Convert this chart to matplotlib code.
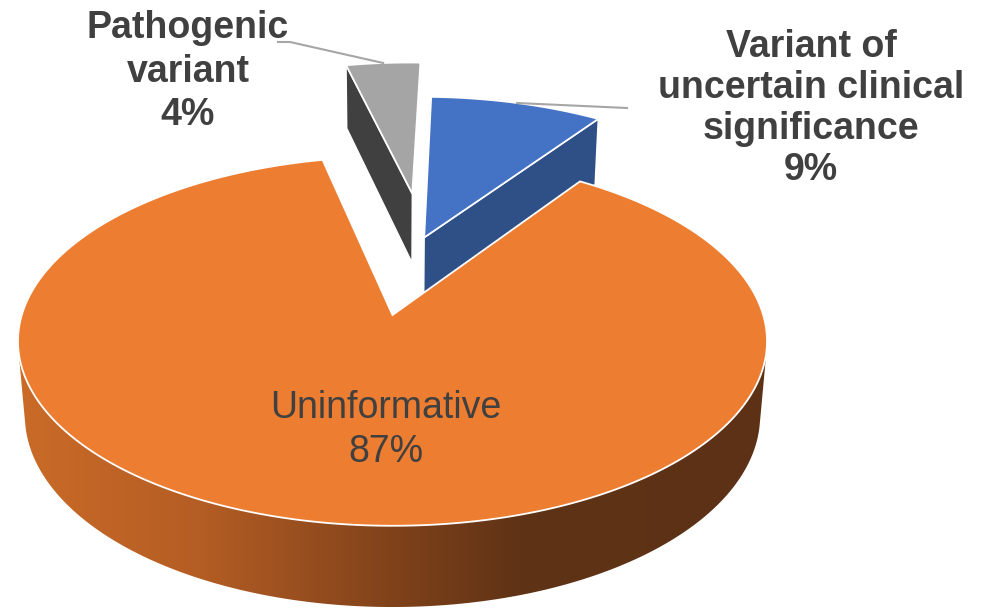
import numpy as np
import matplotlib
matplotlib.use("Agg")
import matplotlib.pyplot as plt
from matplotlib.patches import Polygon

# data, clockwise from 12 o'clock
categories = ["Variant of\nuncertain clinical\nsignificance", "Uninformative", "Pathogenic\nvariant"]
shares = [9, 87, 4]

top_colors = ["#4472C4", "#ED7D31", "#A5A5A5"]
side_colors = ["#2F4F87", None, "#404040"]   # None -> shaded wall
# how far each slice is pulled out (table plane, x right / y away, in radii)
offsets = [(0.091, 0.456), (0.0, 0.0), (0.059, 0.741)]

# label layout: centre x, first baseline, line step, bold
label_layout = [(811, 57, 41, True), (386, 418, 44, False), (188, 38, 43.5, True)]
leader_ends = [[(627, 108)], None, [(290, 42), (278, 42)]]

# camera for the fake 3d look
ALPHA = np.radians(29.2)
DIST = 6.15
FOCAL = 2280
CX, CY = 392.5, 315
THICK = 0.232
START = 2.0
ca, sa = np.cos(ALPHA), np.sin(ALPHA)


def proj(x, y, z=0.0):
    d = DIST + y * ca - z * sa
    return CX + FOCAL * x / d, CY - FOCAL * (y * sa + z * ca) / d


def rim(ox, oy, t, z=0.0):
    t = np.radians(t)
    return proj(ox + np.sin(t), oy + np.cos(t), z)


fig = plt.figure(figsize=(9.86, 6.13), dpi=100)
ax = fig.add_axes([0, 0, 1, 1])

bounds = START + 360 * np.cumsum([0] + shares) / sum(shares)

# wall shading, light on the left, dark to the right
xs = np.arange(986)
stops_x = [20, 200, 400, 520, 770]
stops_c = np.array([[202, 107, 40], [180, 93, 36], [126, 65, 26], [95, 51, 22], [92, 49, 21]]) / 255
grad = np.stack([np.interp(xs, stops_x, stops_c[:, k]) for k in range(3)], axis=-1)[None, :, :]

for i in [2, 0, 1]:   # back to front
    t0, t1 = bounds[i], bounds[i + 1]
    ox, oy = offsets[i]
    # cut faces (skip the ones seen almost edge-on)
    for t, sgn in ((t0, -1), (t1, 1)):
        r = np.radians(t)
        nx, ny = sgn * np.cos(r), -sgn * np.sin(r)
        if nx * (-ox) + ny * (-DIST * ca - oy) > 0.25:
            xa, ya = proj(ox, oy, 0)
            xb, yb = rim(ox, oy, t, 0)
            xc, yc = rim(ox, oy, t, -THICK)
            xd, yd = proj(ox, oy, -THICK)
            ax.add_patch(Polygon([(xa, ya), (xb, yb), (xc, yc), (xd, yd)], closed=True,
                                 facecolor=side_colors[i] or "#5E3216", edgecolor="white", lw=1, zorder=2))
    # outer wall (only the part facing us)
    tt = np.linspace(t0, t1, 600)
    r = np.radians(tt)
    vis = (-ox - np.sin(r)) * np.sin(r) + (-DIST * ca - oy - np.cos(r)) * np.cos(r) > 0
    if vis.any():
        tv = tt[vis]
        xt, yt = rim(ox, oy, tv, 0)
        xb, yb = rim(ox, oy, tv, -THICK)
        pts = np.column_stack([np.r_[xt, xb[::-1]], np.r_[yt, yb[::-1]]])
        if side_colors[i] is None:
            wall = Polygon(pts, closed=True, facecolor="none", edgecolor="none", zorder=2)
            ax.add_patch(wall)
            im = ax.imshow(grad, extent=(0, 986, 613, 0), aspect="auto", zorder=2)
            im.set_clip_path(wall)
        else:
            ax.add_patch(Polygon(pts, closed=True, facecolor=side_colors[i], edgecolor="white", lw=1, zorder=2))
    # top face
    xa, ya = proj(ox, oy, 0)
    xr, yr = rim(ox, oy, np.linspace(t0, t1, 400), 0)
    top = np.column_stack([np.r_[xa, xr], np.r_[ya, yr]])
    ax.add_patch(Polygon(top, closed=True, facecolor=top_colors[i], edgecolor="white", lw=1.3, zorder=3))

# labels
for i, name in enumerate(categories):
    x, y0, step, bold = label_layout[i]
    lines = name.split("\n") + [f"{shares[i]}%"]
    for k, line in enumerate(lines):
        ax.text(x, y0 + k * step, line, ha="center", va="baseline", fontsize=27,
                fontweight="bold" if bold else "normal", color="#404040",
                family="Liberation Sans", zorder=5)
    if leader_ends[i]:
        ox, oy = offsets[i]
        mx, my = rim(ox, oy, (bounds[i] + bounds[i + 1]) / 2, 0)
        px = [mx] + [p[0] for p in leader_ends[i]]
        py = [my] + [p[1] for p in leader_ends[i]]
        ax.plot(px, py, color="#A6A6A6", lw=1.5, zorder=4)

ax.set_xlim(0, 986)
ax.set_ylim(613, 0)
ax.axis("off")
fig.savefig("out.png", dpi=100)
